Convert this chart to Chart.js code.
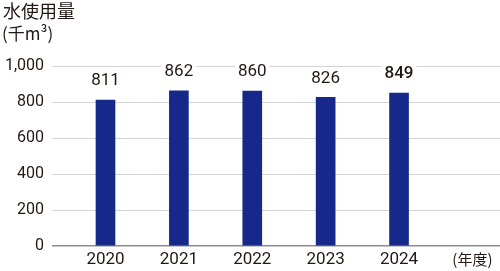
<!DOCTYPE html>
<html>
<head>
<meta charset="utf-8">
<script src="https://cdn.jsdelivr.net/npm/chart.js@4"></script>
<style>
  html, body { margin: 0; padding: 0; background: #fff; }
  #wrap { width: 500px; height: 271px; position: relative; }
</style>
</head>
<body>
<div id="wrap"><canvas id="chart"></canvas></div>
<script>
// Data
const years = [2020, 2021, 2022, 2023, 2024];
const waterUse = [811, 862, 860, 826, 849];
const yTicks = [0, 200, 400, 600, 800, 1000];
const unitLabel = '(千m³)';
const titleLabel = '水使用量';
const yearUnit = '(年度)';

const TEXT = '#231815';
const BAR = '#16298b';
const NUM_FONT = "'Roboto', sans-serif";
const JP_FONT = "'Noto Sans CJK JP', sans-serif";

// Value labels with white backing + title texts
const labelPlugin = {
    id: 'labels',
    afterDatasetsDraw(chart) {
        const ctx = chart.ctx;
        const meta = chart.getDatasetMeta(0);
        ctx.save();
        ctx.textAlign = 'center';
        ctx.textBaseline = 'middle';
        meta.data.forEach((bar, i) => {
            const bold = i === waterUse.length - 1;
            ctx.font = (bold ? '500 ' : '') + '17px ' + NUM_FONT;
            const txt = String(waterUse[i]);
            const w = ctx.measureText(txt).width;
            const y = bar.y - 19;
            ctx.fillStyle = '#fff';
            ctx.fillRect(bar.x - w / 2 - 3, y - 9, w + 6, 18);
            ctx.fillStyle = TEXT;
            ctx.fillText(txt, bar.x, y);
        });
        ctx.textAlign = 'left';
        ctx.font = '18px ' + JP_FONT;
        ctx.fillText(titleLabel, 3, 11);
        ctx.font = '17px ' + JP_FONT;
        ctx.fillText(unitLabel, 2, 34);
        ctx.restore();
    }
};

new Chart(document.getElementById('chart'), {
    type: 'bar',
    data: {
        datasets: [{
            data: years.map((y, i) => ({ x: y, y: waterUse[i] })),
            backgroundColor: BAR,
            barThickness: 19
        }]
    },
    options: {
        responsive: true,
        maintainAspectRatio: false,
        animation: false,
        layout: { padding: { top: 66, right: 0, bottom: 0, left: 0 } },
        plugins: { legend: { display: false }, tooltip: { enabled: false } },
        scales: {
            x: {
                type: 'linear',
                offset: false,
                min: 2019.271,
                max: 2025.376,
                afterBuildTicks: s => { s.ticks = years.concat([2025]).map(v => ({ value: v })); },
                afterFit: s => { s.height = 25; },
                grid: { display: false, drawTicks: false },
                border: { display: false },
                ticks: {
                    padding: 4,
                    color: TEXT,
                    autoSkip: false,
                    maxRotation: 0,
                    callback: v => v === 2025 ? yearUnit : String(v),
                    font: c => (c.tick && c.tick.value === 2025)
                        ? { family: JP_FONT, size: 15 }
                        : { family: NUM_FONT, size: 17 }
                }
            },
            y: {
                min: 0,
                max: 1000,
                afterBuildTicks: s => { s.ticks = yTicks.map(v => ({ value: v })); },
                afterFit: s => { s.width = 52; },
                grid: {
                    drawTicks: false,
                    color: c => c.tick && c.tick.value === 0 ? '#8c8c8c' : '#d4d4d4',
                    lineWidth: c => c.tick && c.tick.value === 0 ? 1.5 : 1
                },
                border: { display: false },
                ticks: {
                    padding: 8,
                    color: TEXT,
                    font: { family: NUM_FONT, size: 16 },
                    callback: v => v.toLocaleString('en-US')
                }
            }
        }
    },
    plugins: [labelPlugin]
});
</script>
</body>
</html>
